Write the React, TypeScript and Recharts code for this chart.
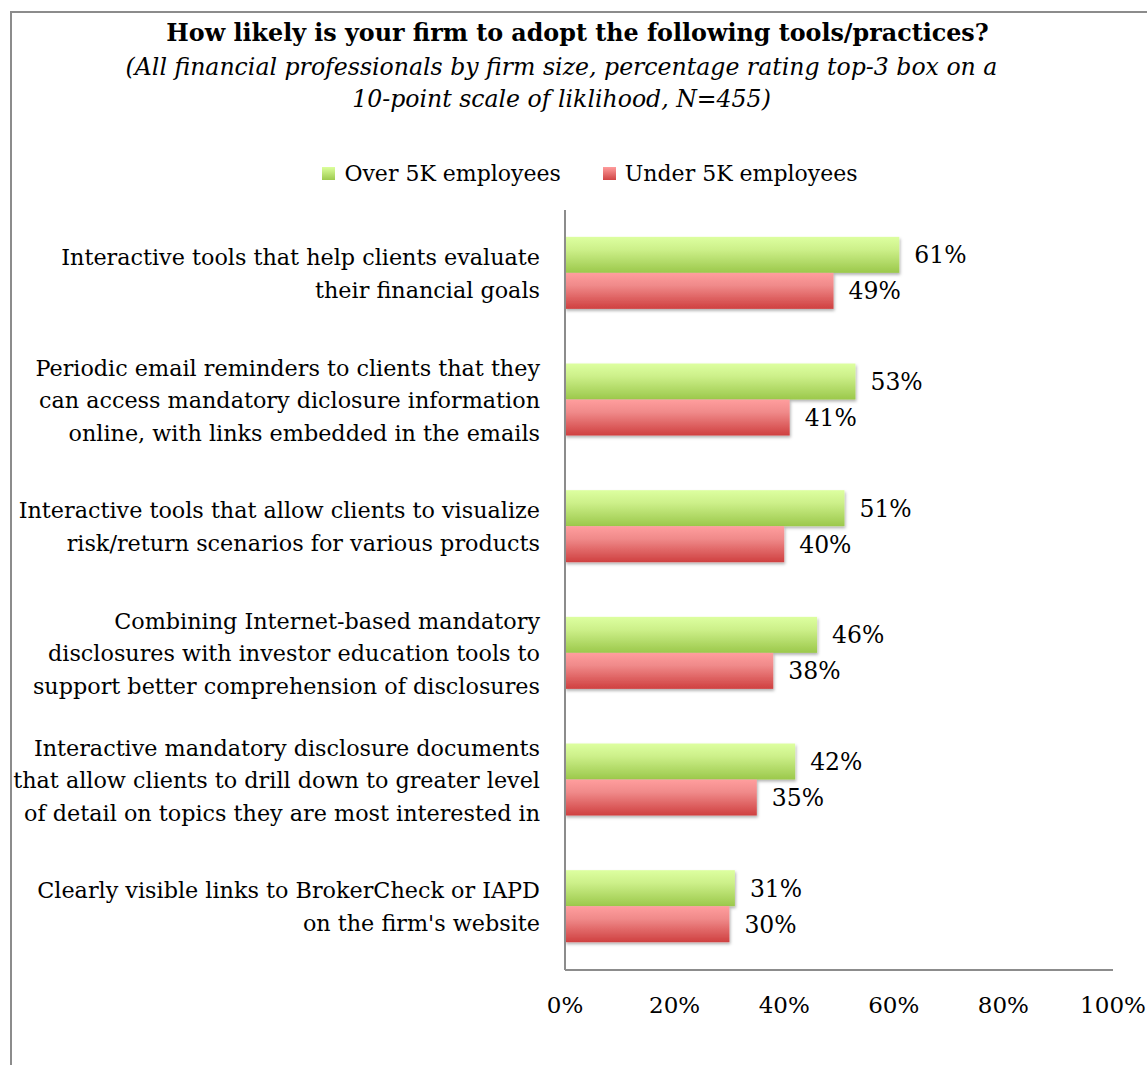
import { Bar, BarChart, LabelList, XAxis, YAxis } from "recharts";

const categories = [
  "Interactive tools that help clients evaluate\ntheir financial goals",
  "Periodic email reminders to clients that they\ncan access mandatory diclosure information\nonline, with links embedded in the emails",
  "Interactive tools that allow clients to visualize\nrisk/return scenarios for various products",
  "Combining Internet-based mandatory\ndisclosures with investor education tools to\nsupport better comprehension of disclosures",
  "Interactive mandatory disclosure documents\nthat allow clients to drill down to greater level\nof detail on topics they are most interested in",
  "Clearly visible links to BrokerCheck or IAPD\non the firm's website",
];
const over5k = [61, 53, 51, 46, 42, 31];
const under5k = [49, 41, 40, 38, 35, 30];
const xTicks = [0, 20, 40, 60, 80, 100];

const seriesNames = ["Over 5K employees", "Under 5K employees"];

const data = categories.map((name, i) => ({
  name,
  over: over5k[i],
  under: under5k[i],
}));

const FONT = "'DejaVu Serif', serif";
const FS = 22;
const W = 1147;
const H = 1065;

function CategoryTick(props: any) {
  const { x, y, payload } = props;
  const lines: string[] = String(payload.value).split("\n");
  const lh = 32.5;
  const start = y - ((lines.length - 1) * lh) / 2;
  return (
    <text
      x={x - 25}
      y={start}
      textAnchor="end"
      dominantBaseline="central"
      fontFamily={FONT}
      fontSize={22.3}
      fill="#000"
    >
      {lines.map((l, i) => (
        <tspan key={i} x={x - 25} y={start + i * lh}>
          {l}
        </tspan>
      ))}
    </text>
  );
}

function PercentTick(props: any) {
  const { x, y, payload } = props;
  return (
    <text
      x={x}
      y={y + 35}
      textAnchor="middle"
      dominantBaseline="central"
      fontFamily={FONT}
      fontSize={23}
      fill="#000"
    >
      {payload.value}%
    </text>
  );
}

function ShadowBar(props: any) {
  const { x, y, width, height, fill } = props;
  return <rect x={x} y={y} width={width} height={height} fill={fill} filter="url(#barShadow)" />;
}

export default function App() {
  return (
    <div style={{ position: "absolute", left: 0, top: 0, width: W, height: H, overflow: "hidden", background: "#fff" }}>
      <div
        style={{
          position: "absolute",
          left: 10,
          top: 11,
          width: W + 20,
          height: H + 20,
          border: "2px solid #8c8c8c",
          boxSizing: "border-box",
        }}
      />
      <div
        style={{
          position: "absolute",
          left: 0,
          width: W,
          top: 15,
          textAlign: "center",
          fontFamily: FONT,
          color: "#000",
        }}
      >
        <div style={{ fontWeight: "bold", fontSize: 23.8, lineHeight: "36px", position: "relative", left: 4 }}>
          How likely is your firm to adopt the following tools/practices?
        </div>
        <div style={{ fontStyle: "italic", fontSize: 23.6, lineHeight: "32px", width: 960, margin: "0 auto", position: "relative", left: -12 }}>
          (All financial professionals by firm size, percentage rating top-3 box on a
          <br />
          10-point scale of liklihood, N=455)
        </div>
      </div>
      <div
        style={{
          position: "absolute",
          top: 161,
          left: 0,
          width: W,
          display: "flex",
          justifyContent: "center",
          gap: 42,
          fontFamily: FONT,
          fontSize: FS,
          color: "#000",
          paddingLeft: 33,
          boxSizing: "border-box",
        }}
      >
        {seriesNames.map((n, i) => (
          <div key={n} style={{ display: "flex", alignItems: "center", gap: 9 }}>
            <div
              style={{
                width: 13,
                height: 13,
                background: i === 0
                  ? "linear-gradient(#dcff9c, #9dca4e)"
                  : "linear-gradient(#ff9c9c, #d04444)",
              }}
            />
            <span>{n}</span>
          </div>
        ))}
      </div>
      <div style={{ position: "absolute", left: 0, top: 0 }}>
        <BarChart
          width={W}
          height={H}
          data={data}
          layout="vertical"
          margin={{ top: 210, bottom: 0, left: 0, right: 34 }}
          barCategoryGap="21.2%"
          barGap={0}
        >
          <defs>
            <linearGradient id="greenFill" x1="0" x2="0" y1="0" y2="1">
              <stop offset="0%" stopColor="#ddffa0" />
              <stop offset="35%" stopColor="#cdf08a" />
              <stop offset="100%" stopColor="#9bc84b" />
            </linearGradient>
            <linearGradient id="redFill" x1="0" x2="0" y1="0" y2="1">
              <stop offset="0%" stopColor="#ff9e9e" />
              <stop offset="35%" stopColor="#f08a8a" />
              <stop offset="100%" stopColor="#cf4040" />
            </linearGradient>
            <filter id="barShadow" x="-5%" y="-20%" width="110%" height="160%">
              <feDropShadow dx="1" dy="2" stdDeviation="1.5" floodColor="#000" floodOpacity="0.3" />
            </filter>
          </defs>
          <XAxis
            type="number"
            domain={[0, 100]}
            ticks={xTicks}
            height={95}
            tickSize={0}
            tickMargin={0}
            axisLine={{ stroke: "#8c8c8c", strokeWidth: 2 }}
            tick={<PercentTick />}
            interval={0}
          />
          <YAxis
            type="category"
            dataKey="name"
            width={565}
            tickSize={0}
            tickMargin={0}
            axisLine={{ stroke: "#8c8c8c", strokeWidth: 2 }}
            tick={<CategoryTick />}
            interval={0}
          />
          <Bar dataKey="over" name={seriesNames[0]} fill="url(#greenFill)" shape={<ShadowBar />} isAnimationActive={false}>
            <LabelList
              dataKey="over"
              position="right"
              offset={15}
              formatter={(v: any) => `${v}%`}
              style={{ fontFamily: FONT, fontSize: 23.5, fill: "#000" }}
            />
          </Bar>
          <Bar dataKey="under" name={seriesNames[1]} fill="url(#redFill)" shape={<ShadowBar />} isAnimationActive={false}>
            <LabelList
              dataKey="under"
              position="right"
              offset={15}
              formatter={(v: any) => `${v}%`}
              style={{ fontFamily: FONT, fontSize: 23.5, fill: "#000" }}
            />
          </Bar>
        </BarChart>
      </div>
    </div>
  );
}
